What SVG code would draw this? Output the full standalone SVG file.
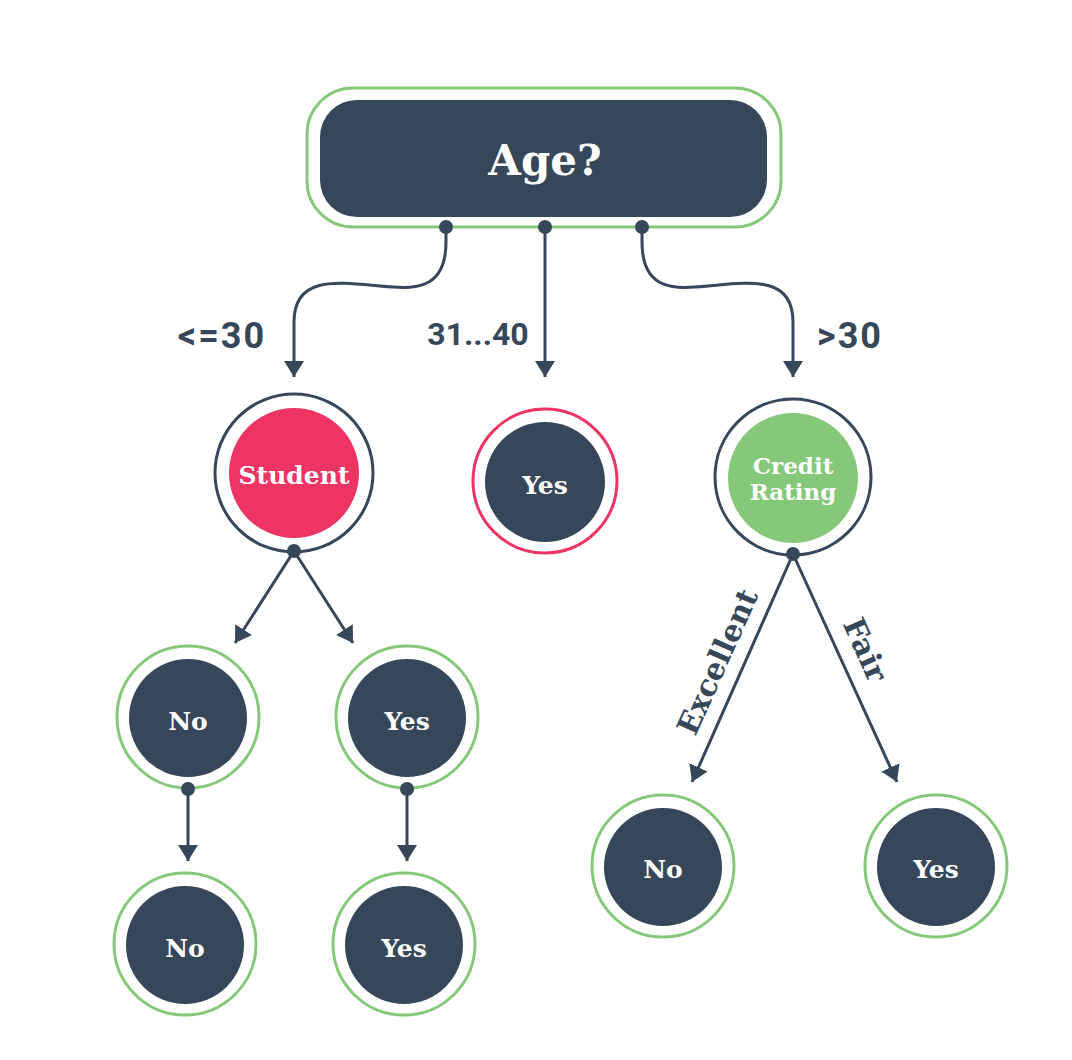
<svg xmlns="http://www.w3.org/2000/svg" width="1072" height="1060" viewBox="0 0 1072 1060">
<defs>
<style>
.conn{fill:none;stroke:#36475a;stroke-width:3}
.dot{fill:#36475a}
.ringG{fill:#fff;stroke:#86c87a;stroke-width:3}
.ringD{fill:#fff;stroke:#36475a;stroke-width:3}
.ringR{fill:#fff;stroke:#ee3462;stroke-width:3}
.dark{fill:#36475a}
.nt{font-family:"DejaVu Serif","Liberation Serif",serif;font-weight:bold;fill:#fff;text-anchor:middle;font-size:25px}
.big{font-size:42px}
.sm{font-size:23px}
.lbl{font-family:Roboto,"Liberation Sans",sans-serif;font-weight:bold;fill:#36475a;text-anchor:middle}
.el{font-family:"DejaVu Serif","Liberation Serif",serif;font-weight:bold;fill:#36475a;font-size:30px;text-anchor:middle}
</style>
<marker id="ah" viewBox="0 0 16 20" refX="16" refY="10" markerWidth="16" markerHeight="20" orient="auto" markerUnits="userSpaceOnUse">
<path d="M0,0 L16,10 L0,20 z" fill="#36475a"/>
</marker>
</defs>
<rect width="1072" height="1060" fill="#fff"/>

<g id="age">
<rect x="307" y="88" width="474" height="139" rx="46" class="ringG"/>
<rect x="320" y="100" width="447" height="117" rx="37" class="dark"/>
<text class="nt big" x="545" y="175">Age?</text>
</g>

<g id="student">
<circle cx="294" cy="473" r="79" class="ringD"/>
<circle cx="294" cy="473" r="65" fill="#ee3462"/>
<text class="nt" x="294" y="484">Student</text>
</g>

<g id="yes-mid">
<circle cx="545" cy="481" r="72" class="ringR"/>
<circle cx="545" cy="482" r="60" class="dark"/>
<text class="nt" x="545" y="494">Yes</text>
</g>

<g id="credit">
<circle cx="793" cy="477" r="78" class="ringD"/>
<circle cx="793" cy="478" r="65" fill="#86c87a"/>
<text class="nt sm" x="793" y="474">Credit</text>
<text class="nt sm" x="793" y="500">Rating</text>
</g>

<g id="no1">
<circle cx="188" cy="717" r="71" class="ringG"/>
<circle cx="188" cy="718" r="59" class="dark"/>
<text class="nt" x="188" y="730">No</text>
</g>

<g id="yes1">
<circle cx="407" cy="717" r="71" class="ringG"/>
<circle cx="407" cy="718" r="59" class="dark"/>
<text class="nt" x="407" y="730">Yes</text>
</g>

<g id="no2">
<circle cx="185" cy="944" r="71" class="ringG"/>
<circle cx="185" cy="945" r="59" class="dark"/>
<text class="nt" x="185" y="957">No</text>
</g>

<g id="yes2">
<circle cx="404" cy="944" r="71" class="ringG"/>
<circle cx="404" cy="945" r="59" class="dark"/>
<text class="nt" x="404" y="957">Yes</text>
</g>

<g id="no3">
<circle cx="663" cy="866" r="71" class="ringG"/>
<circle cx="663" cy="867" r="59" class="dark"/>
<text class="nt" x="663" y="878">No</text>
</g>

<g id="yes3">
<circle cx="936" cy="866" r="71" class="ringG"/>
<circle cx="936" cy="867" r="59" class="dark"/>
<text class="nt" x="936" y="878">Yes</text>
</g>

<g id="connectors">
<path class="conn" marker-end="url(#ah)" d="M446,227 V242 C446,292 412,289 380,286 C336,282 294,276 294,322 V377"/>
<path class="conn" marker-end="url(#ah)" d="M545,227 V377"/>
<path class="conn" marker-end="url(#ah)" d="M642,227 V242 C642,292 676,289 708,286 C752,282 793,276 793,322 V377"/>
<path class="conn" marker-end="url(#ah)" d="M294,551 L235,643"/>
<path class="conn" marker-end="url(#ah)" d="M294,551 L353,643"/>
<path class="conn" marker-end="url(#ah)" d="M188,789 V861"/>
<path class="conn" marker-end="url(#ah)" d="M407,789 V861"/>
<path class="conn" marker-end="url(#ah)" d="M793,554 L692,782"/>
<path class="conn" marker-end="url(#ah)" d="M793,554 L897,782"/>
<circle class="dot" cx="446" cy="227" r="7"/>
<circle class="dot" cx="545" cy="227" r="7"/>
<circle class="dot" cx="642" cy="227" r="7"/>
<circle class="dot" cx="294" cy="551" r="7"/>
<circle class="dot" cx="793" cy="554" r="7"/>
<circle class="dot" cx="188" cy="789" r="7"/>
<circle class="dot" cx="407" cy="789" r="7"/>
<text class="lbl" x="222" y="348" font-size="36" letter-spacing="2">&lt;=30</text>
<text class="lbl" x="478" y="345" font-size="32">31...40</text>
<text class="lbl" x="850" y="348" font-size="36" letter-spacing="2">&gt;30</text>
<text class="el" transform="translate(727,666) rotate(-66)">Excellent</text>
<text class="el" transform="translate(856,654) rotate(66)">Fair</text>
</g>
</svg>
